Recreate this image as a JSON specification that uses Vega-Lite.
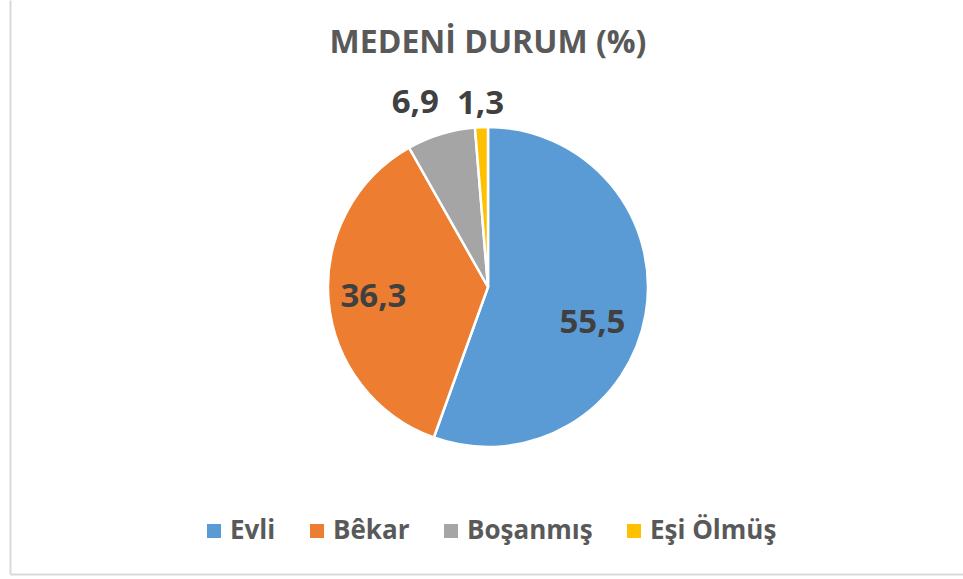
{
  "$schema": "https://vega.github.io/schema/vega-lite/v6.json",
  "width": 956,
  "height": 574,
  "padding": {"left": 7, "top": 0, "right": 0, "bottom": 4},
  "autosize": {"type": "pad"},
  "background": "white",
  "title": {
    "text": "MEDENİ DURUM (%)",
    "font": "Open Sans",
    "fontSize": 32,
    "fontWeight": "bold",
    "color": "#595959",
    "baseline": "alphabetic",
    "offset": -85
  },
  "config": {"view": {"stroke": null}},
  "layer": [
    {
      "data": {"values": [{"bx": 0, "by": 0}]},
      "mark": {"type": "point", "opacity": 0},
      "encoding": {
        "x": {
          "field": "bx",
          "type": "quantitative",
          "scale": {"domain": [0, 1]},
          "axis": {"title": null, "domainColor": "#d9d9d9", "domainWidth": 2, "labels": false, "ticks": false, "grid": false}
        },
        "y": {
          "field": "by",
          "type": "quantitative",
          "scale": {"domain": [0, 1]},
          "axis": {"title": null, "domainColor": "#d9d9d9", "domainWidth": 2, "labels": false, "ticks": false, "grid": false}
        }
      }
    },
    {
      "data": {
        "values": [
          {"durum": "Evli", "deger": 55.5, "etiket": "55,5", "sira": 1},
          {"durum": "Bêkar", "deger": 36.3, "etiket": "36,3", "sira": 2},
          {"durum": "Boşanmış", "deger": 6.9, "etiket": "6,9", "sira": 3},
          {"durum": "Eşi Ölmüş", "deger": 1.3, "etiket": "1,3", "sira": 4}
        ]
      },
      "encoding": {
        "theta": {"field": "deger", "type": "quantitative", "stack": true},
        "order": {"field": "sira", "type": "quantitative", "sort": "ascending"}
      },
      "layer": [
        {
          "mark": {"type": "arc", "outerRadius": 160, "stroke": "white", "strokeWidth": 2.5},
          "encoding": {
            "color": {
              "field": "durum",
              "type": "nominal",
              "scale": {
                "domain": ["Evli", "Bêkar", "Boşanmış", "Eşi Ölmüş"],
                "range": ["#5B9BD5", "#ED7D31", "#A5A5A5", "#FFC000"]
              },
              "legend": {
                "title": null,
                "orient": "none",
                "legendX": 191,
                "legendY": 518,
                "direction": "horizontal",
                "symbolType": "square",
                "symbolSize": 196,
                "symbolStrokeWidth": 0,
                "labelFont": "Open Sans",
                "labelFontSize": 26,
                "labelFontWeight": "bold",
                "labelColor": "#595959",
                "labelOffset": 3,
                "columnPadding": 28
              }
            }
          }
        },
        {
          "mark": {
            "type": "text",
            "radius": {"expr": "datum.deger > 50 ? 106 : datum.deger > 20 ? 115 : datum.deger > 5 ? 193 : 183"},
            "dy": {"expr": "datum.deger > 50 ? 18 : 0"},
            "dx": {"expr": "datum.deger > 5 && datum.deger < 10 ? -16 : 0"},
            "font": "Open Sans",
            "fontSize": 33,
            "fontWeight": "bold",
            "fill": "#404040"
          },
          "encoding": {"text": {"field": "etiket", "type": "nominal"}}
        }
      ]
    }
  ]
}
